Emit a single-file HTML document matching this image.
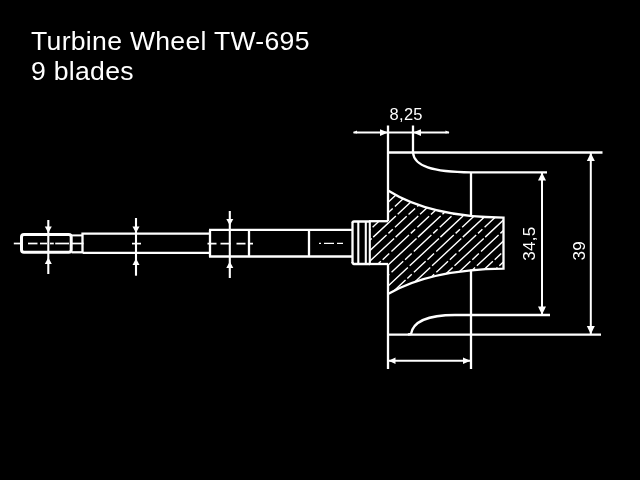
<!DOCTYPE html>
<html><head><meta charset="utf-8"><title>Turbine Wheel TW-695</title>
<style>
html,body{margin:0;padding:0;background:#000;}
body{width:640px;height:480px;overflow:hidden;position:relative;font-family:"Liberation Sans",Arial,sans-serif;color:#fff;}
.title{will-change:transform;position:absolute;left:31px;top:26px;font-size:26.6px;line-height:30px;white-space:nowrap;letter-spacing:0.29px;}
svg{position:absolute;left:0;top:0;will-change:transform;}
svg text{font-family:"Liberation Sans",Arial,sans-serif;fill:#fff;stroke:none;}
</style></head><body>
<div class="title">Turbine Wheel TW-695<br>9 blades</div>
<svg width="640" height="480" viewBox="0 0 640 480" stroke="#fff" stroke-linecap="butt">
<defs><clipPath id="hub"><path d="M370,221 L388,221 L388,190.5 Q430,217 503.5,217.6 L503.5,268.6 Q430,269.5 388,294 L388,264 L370,264 Z"/></clipPath></defs>
<rect x="21.5" y="234.5" width="49.7" height="17.8" rx="2.5" ry="2.5" fill="none" stroke-width="3"/>
<line x1="71.5" y1="235.4" x2="82.5" y2="235.4" stroke-width="2" />
<line x1="71.5" y1="252.3" x2="82.5" y2="252.3" stroke-width="2.3" />
<path d="M82.5,252.9 L82.5,233.7 L210,233.7" stroke-width="2.3" fill="none" />
<line x1="82.5" y1="252.9" x2="210" y2="252.9" stroke-width="2.3" />
<path d="M210,229.8 L210,256.5" stroke-width="2.3" fill="none" />
<path d="M209,229.8 L352,229.8" stroke-width="2.3" fill="none" />
<path d="M209,256.5 L352,256.5" stroke-width="2.3" fill="none" />
<line x1="249" y1="230" x2="249" y2="256.3" stroke-width="2.3" />
<line x1="309" y1="230" x2="309" y2="256.3" stroke-width="2.3" />
<path d="M352.5,223 Q352.5,221.5 354,221.5 L370,221.5" stroke-width="2.3" fill="none" />
<path d="M352.5,262 Q352.5,264 354,264 L370,264" stroke-width="2.3" fill="none" />
<line x1="352.5" y1="222.5" x2="352.5" y2="263" stroke-width="2.3" />
<line x1="358.3" y1="221.5" x2="358.3" y2="264" stroke-width="2.1" />
<line x1="365.8" y1="221.5" x2="365.8" y2="264" stroke-width="2.1" />
<line x1="369.8" y1="221.5" x2="369.8" y2="264" stroke-width="2.1" />
<path d="M369,221.2 L388,221.2" stroke-width="2.3" fill="none" />
<path d="M369,264 L388,264" stroke-width="2.3" fill="none" />
<line x1="388" y1="125.5" x2="388" y2="221.2" stroke-width="2.3" />
<line x1="388" y1="264" x2="388" y2="369" stroke-width="2.3" />
<line x1="413" y1="125.5" x2="413" y2="152.5" stroke-width="2.3" />
<line x1="388" y1="152.5" x2="602.5" y2="152.5" stroke-width="2.3" />
<path d="M413,152.5 C414,166 432,172 471,172.3" stroke-width="2.3" fill="none" />
<line x1="471" y1="172.3" x2="547" y2="172.3" stroke-width="2.3" />
<line x1="471" y1="172" x2="471" y2="216" stroke-width="2.3" />
<line x1="471" y1="269.5" x2="471" y2="369" stroke-width="2.3" />
<path d="M408,334.5 L411,334 C413,322 428,315 455,315 L550,315" stroke-width="2.3" fill="none" />
<line x1="388" y1="334.6" x2="601" y2="334.6" stroke-width="2.3" />
<path d="M388,190.5 Q430,217 503.5,217.6 L503.5,268.6 Q430,269.5 388,294" stroke-width="2.3" fill="none" />
<g clip-path="url(#hub)"><line x1="197.7" y1="317.3" x2="358.5" y2="167.2" stroke-width="1.4" stroke-dasharray="40 2 31 2.5"/><line x1="208.9" y1="317.3" x2="369.7" y2="167.2" stroke-width="1.4" stroke-dasharray="16 2.5 9 3 24 2.5 6 3"/><line x1="220.1" y1="317.3" x2="380.9" y2="167.2" stroke-width="1.4" stroke-dasharray="40 2 31 2.5"/><line x1="231.3" y1="317.3" x2="392.1" y2="167.2" stroke-width="1.4" stroke-dasharray="16 2.5 9 3 24 2.5 6 3"/><line x1="242.5" y1="317.3" x2="403.3" y2="167.2" stroke-width="1.4" stroke-dasharray="40 2 31 2.5"/><line x1="253.7" y1="317.3" x2="414.5" y2="167.2" stroke-width="1.4" stroke-dasharray="16 2.5 9 3 24 2.5 6 3"/><line x1="264.9" y1="317.3" x2="425.7" y2="167.2" stroke-width="1.4" stroke-dasharray="40 2 31 2.5"/><line x1="276.1" y1="317.3" x2="436.9" y2="167.2" stroke-width="1.4" stroke-dasharray="16 2.5 9 3 24 2.5 6 3"/><line x1="287.3" y1="317.3" x2="448.1" y2="167.2" stroke-width="1.4" stroke-dasharray="40 2 31 2.5"/><line x1="298.5" y1="317.3" x2="459.3" y2="167.2" stroke-width="1.4" stroke-dasharray="16 2.5 9 3 24 2.5 6 3"/><line x1="309.7" y1="317.3" x2="470.5" y2="167.2" stroke-width="1.4" stroke-dasharray="40 2 31 2.5"/><line x1="320.9" y1="317.3" x2="481.7" y2="167.2" stroke-width="1.4" stroke-dasharray="16 2.5 9 3 24 2.5 6 3"/><line x1="332.1" y1="317.3" x2="492.9" y2="167.2" stroke-width="1.4" stroke-dasharray="40 2 31 2.5"/><line x1="343.3" y1="317.3" x2="504.1" y2="167.2" stroke-width="1.4" stroke-dasharray="16 2.5 9 3 24 2.5 6 3"/><line x1="354.5" y1="317.3" x2="515.3" y2="167.2" stroke-width="1.4" stroke-dasharray="40 2 31 2.5"/><line x1="365.7" y1="317.3" x2="526.5" y2="167.2" stroke-width="1.4" stroke-dasharray="16 2.5 9 3 24 2.5 6 3"/><line x1="376.9" y1="317.3" x2="537.7" y2="167.2" stroke-width="1.4" stroke-dasharray="40 2 31 2.5"/><line x1="388.1" y1="317.3" x2="548.9" y2="167.2" stroke-width="1.4" stroke-dasharray="16 2.5 9 3 24 2.5 6 3"/><line x1="399.3" y1="317.3" x2="560.1" y2="167.2" stroke-width="1.4" stroke-dasharray="40 2 31 2.5"/><line x1="410.5" y1="317.3" x2="571.3" y2="167.2" stroke-width="1.4" stroke-dasharray="16 2.5 9 3 24 2.5 6 3"/><line x1="421.7" y1="317.3" x2="582.5" y2="167.2" stroke-width="1.4" stroke-dasharray="40 2 31 2.5"/><line x1="432.9" y1="317.3" x2="593.7" y2="167.2" stroke-width="1.4" stroke-dasharray="16 2.5 9 3 24 2.5 6 3"/><line x1="444.1" y1="317.3" x2="604.9" y2="167.2" stroke-width="1.4" stroke-dasharray="40 2 31 2.5"/><line x1="455.3" y1="317.3" x2="616.1" y2="167.2" stroke-width="1.4" stroke-dasharray="16 2.5 9 3 24 2.5 6 3"/><line x1="466.5" y1="317.3" x2="627.3" y2="167.2" stroke-width="1.4" stroke-dasharray="40 2 31 2.5"/><line x1="477.7" y1="317.3" x2="638.5" y2="167.2" stroke-width="1.4" stroke-dasharray="16 2.5 9 3 24 2.5 6 3"/><line x1="488.9" y1="317.3" x2="649.7" y2="167.2" stroke-width="1.4" stroke-dasharray="40 2 31 2.5"/><line x1="500.1" y1="317.3" x2="660.9" y2="167.2" stroke-width="1.4" stroke-dasharray="16 2.5 9 3 24 2.5 6 3"/><line x1="511.3" y1="317.3" x2="672.1" y2="167.2" stroke-width="1.4" stroke-dasharray="40 2 31 2.5"/><line x1="522.5" y1="317.3" x2="683.3" y2="167.2" stroke-width="1.4" stroke-dasharray="16 2.5 9 3 24 2.5 6 3"/></g>
<line x1="13.8" y1="243.5" x2="20.5" y2="243.5" stroke-width="1.7" />
<line x1="28" y1="243.5" x2="37.5" y2="243.5" stroke-width="1.7" />
<line x1="40" y1="243.5" x2="47" y2="243.5" stroke-width="1.7" />
<line x1="50" y1="243.5" x2="53.8" y2="243.5" stroke-width="1.7" />
<line x1="55.2" y1="243.5" x2="69" y2="243.5" stroke-width="1.7" />
<line x1="70.5" y1="243.5" x2="83.5" y2="243.5" stroke-width="1.7" />
<line x1="132" y1="243.6" x2="141" y2="243.6" stroke-width="1.7" />
<line x1="207.5" y1="243.6" x2="253" y2="243.6" stroke-width="1.8" stroke-dasharray="9 4 10 6 9 2.5 5 100"/>
<line x1="319" y1="243.3" x2="343" y2="243.3" stroke-width="1.2" stroke-dasharray="2 3 10 3 6 100"/>
<line x1="48.3" y1="220" x2="48.3" y2="274" stroke-width="2.1" />
<polygon points="44.8,226.5 51.8,226.5 48.3,233" fill="#fff" stroke="none"/>
<polygon points="44.8,264.0 51.8,264.0 48.3,257.5" fill="#fff" stroke="none"/>
<line x1="136" y1="218" x2="136" y2="275.7" stroke-width="2.1" />
<polygon points="132.5,226.5 139.5,226.5 136,233" fill="#fff" stroke="none"/>
<polygon points="132.5,265.0 139.5,265.0 136,258.5" fill="#fff" stroke="none"/>
<line x1="229.8" y1="211" x2="229.8" y2="278" stroke-width="2.1" />
<polygon points="226.3,219.0 233.3,219.0 229.8,225.5" fill="#fff" stroke="none"/>
<polygon points="226.3,268.0 233.3,268.0 229.8,261.5" fill="#fff" stroke="none"/>
<line x1="353.5" y1="132.6" x2="449" y2="132.6" stroke-width="2" />
<polygon points="380,129.2 380,136 388,132.6" fill="#fff" stroke="none"/>
<polygon points="421,129.2 421,136 413,132.6" fill="#fff" stroke="none"/>
<polygon points="353,132.6 357,130.6 357,133.6" fill="#fff" stroke="none"/>
<polygon points="449.5,132.6 445.5,130.6 445.5,133.6" fill="#fff" stroke="none"/>
<line x1="388" y1="360.8" x2="471" y2="360.8" stroke-width="2" />
<polygon points="388.5,360.8 395.5,357.6 395.5,364" fill="#fff" stroke="none"/>
<polygon points="470.5,360.8 463,357.6 463,364" fill="#fff" stroke="none"/>
<line x1="542" y1="173" x2="542" y2="314" stroke-width="2" />
<polygon points="542,172.5 538,180.5 546,180.5" fill="#fff" stroke="none"/>
<polygon points="542,314.8 538,306.5 546,306.5" fill="#fff" stroke="none"/>
<line x1="590.8" y1="153" x2="590.8" y2="334" stroke-width="2" />
<polygon points="590.8,153 586.8,161 594.8,161" fill="#fff" stroke="none"/>
<polygon points="590.8,334.3 586.8,326 594.8,326" fill="#fff" stroke="none"/>
<text x="406.2" y="120" font-size="16.5" letter-spacing="0.3" text-anchor="middle">8,25</text>
<text transform="translate(534.8,260.8) rotate(-90)" font-size="17" letter-spacing="0.3">34,5</text>
<text transform="translate(584.8,260.6) rotate(-90)" font-size="17" letter-spacing="0.3">39</text>
</svg>
</body></html>
